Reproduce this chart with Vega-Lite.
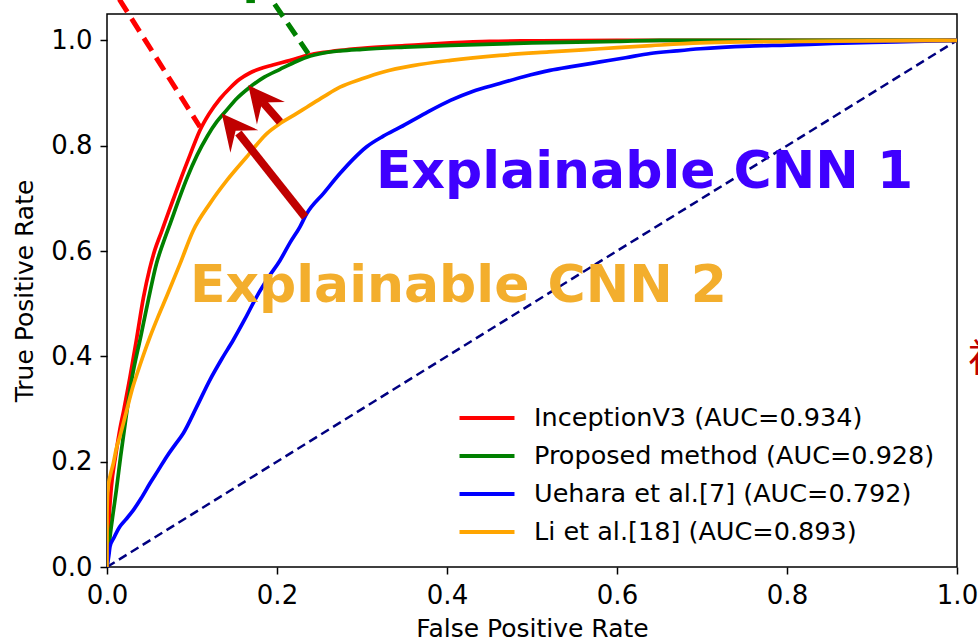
{
  "$schema": "https://vega.github.io/schema/vega-lite/v6.json",
  "width": 850,
  "height": 553,
  "autosize": {"type": "none"},
  "padding": {"top": 14, "left": 107, "right": 21, "bottom": 75},
  "background": "white",
  "config": {
    "view": {"stroke": "black", "strokeWidth": 1.5},
    "font": "DejaVu Sans",
    "axis": {
      "grid": false, "domain": false,
      "tickColor": "black", "tickSize": 7, "tickWidth": 1.5,
      "labelColor": "black", "labelFont": "DejaVu Sans", "labelFontSize": 26,
      "titleColor": "black", "titleFont": "DejaVu Sans", "titleFontSize": 25, "titleFontWeight": "normal"
    }
  },
  "datasets": {
    "roc": [
      {"model": "InceptionV3 (AUC=0.934)", "fpr": 0, "tpr": 0},
      {"model": "InceptionV3 (AUC=0.934)", "fpr": 0.002, "tpr": 0.08},
      {"model": "InceptionV3 (AUC=0.934)", "fpr": 0.005, "tpr": 0.15},
      {"model": "InceptionV3 (AUC=0.934)", "fpr": 0.01, "tpr": 0.21},
      {"model": "InceptionV3 (AUC=0.934)", "fpr": 0.015, "tpr": 0.26},
      {"model": "InceptionV3 (AUC=0.934)", "fpr": 0.02, "tpr": 0.30},
      {"model": "InceptionV3 (AUC=0.934)", "fpr": 0.027, "tpr": 0.36},
      {"model": "InceptionV3 (AUC=0.934)", "fpr": 0.035, "tpr": 0.435},
      {"model": "InceptionV3 (AUC=0.934)", "fpr": 0.0427, "tpr": 0.51},
      {"model": "InceptionV3 (AUC=0.934)", "fpr": 0.05, "tpr": 0.565},
      {"model": "InceptionV3 (AUC=0.934)", "fpr": 0.0565, "tpr": 0.603},
      {"model": "InceptionV3 (AUC=0.934)", "fpr": 0.064, "tpr": 0.636},
      {"model": "InceptionV3 (AUC=0.934)", "fpr": 0.072, "tpr": 0.672},
      {"model": "InceptionV3 (AUC=0.934)", "fpr": 0.08, "tpr": 0.707},
      {"model": "InceptionV3 (AUC=0.934)", "fpr": 0.088, "tpr": 0.742},
      {"model": "InceptionV3 (AUC=0.934)", "fpr": 0.0976, "tpr": 0.782},
      {"model": "InceptionV3 (AUC=0.934)", "fpr": 0.109, "tpr": 0.828},
      {"model": "InceptionV3 (AUC=0.934)", "fpr": 0.12, "tpr": 0.86},
      {"model": "InceptionV3 (AUC=0.934)", "fpr": 0.133, "tpr": 0.889},
      {"model": "InceptionV3 (AUC=0.934)", "fpr": 0.145, "tpr": 0.91},
      {"model": "InceptionV3 (AUC=0.934)", "fpr": 0.156, "tpr": 0.926},
      {"model": "InceptionV3 (AUC=0.934)", "fpr": 0.168, "tpr": 0.938},
      {"model": "InceptionV3 (AUC=0.934)", "fpr": 0.18, "tpr": 0.946},
      {"model": "InceptionV3 (AUC=0.934)", "fpr": 0.195, "tpr": 0.953},
      {"model": "InceptionV3 (AUC=0.934)", "fpr": 0.211, "tpr": 0.96},
      {"model": "InceptionV3 (AUC=0.934)", "fpr": 0.235, "tpr": 0.971},
      {"model": "InceptionV3 (AUC=0.934)", "fpr": 0.255, "tpr": 0.977},
      {"model": "InceptionV3 (AUC=0.934)", "fpr": 0.274, "tpr": 0.981},
      {"model": "InceptionV3 (AUC=0.934)", "fpr": 0.3, "tpr": 0.985},
      {"model": "InceptionV3 (AUC=0.934)", "fpr": 0.35, "tpr": 0.99},
      {"model": "InceptionV3 (AUC=0.934)", "fpr": 0.404, "tpr": 0.995},
      {"model": "InceptionV3 (AUC=0.934)", "fpr": 0.45, "tpr": 0.998},
      {"model": "InceptionV3 (AUC=0.934)", "fpr": 0.5, "tpr": 0.999},
      {"model": "InceptionV3 (AUC=0.934)", "fpr": 0.6, "tpr": 1.0},
      {"model": "InceptionV3 (AUC=0.934)", "fpr": 1.0, "tpr": 1.0},
      {"model": "Proposed method (AUC=0.928)", "fpr": 0, "tpr": 0},
      {"model": "Proposed method (AUC=0.928)", "fpr": 0.0035, "tpr": 0.057},
      {"model": "Proposed method (AUC=0.928)", "fpr": 0.007, "tpr": 0.10},
      {"model": "Proposed method (AUC=0.928)", "fpr": 0.011, "tpr": 0.146},
      {"model": "Proposed method (AUC=0.928)", "fpr": 0.016, "tpr": 0.21},
      {"model": "Proposed method (AUC=0.928)", "fpr": 0.022, "tpr": 0.28},
      {"model": "Proposed method (AUC=0.928)", "fpr": 0.029, "tpr": 0.355},
      {"model": "Proposed method (AUC=0.928)", "fpr": 0.04, "tpr": 0.44},
      {"model": "Proposed method (AUC=0.928)", "fpr": 0.049, "tpr": 0.51},
      {"model": "Proposed method (AUC=0.928)", "fpr": 0.058, "tpr": 0.575},
      {"model": "Proposed method (AUC=0.928)", "fpr": 0.066, "tpr": 0.615},
      {"model": "Proposed method (AUC=0.928)", "fpr": 0.075, "tpr": 0.655},
      {"model": "Proposed method (AUC=0.928)", "fpr": 0.085, "tpr": 0.70},
      {"model": "Proposed method (AUC=0.928)", "fpr": 0.094, "tpr": 0.738},
      {"model": "Proposed method (AUC=0.928)", "fpr": 0.106, "tpr": 0.782},
      {"model": "Proposed method (AUC=0.928)", "fpr": 0.118, "tpr": 0.818},
      {"model": "Proposed method (AUC=0.928)", "fpr": 0.129, "tpr": 0.845},
      {"model": "Proposed method (AUC=0.928)", "fpr": 0.14, "tpr": 0.866},
      {"model": "Proposed method (AUC=0.928)", "fpr": 0.153, "tpr": 0.89},
      {"model": "Proposed method (AUC=0.928)", "fpr": 0.168, "tpr": 0.911},
      {"model": "Proposed method (AUC=0.928)", "fpr": 0.185, "tpr": 0.93},
      {"model": "Proposed method (AUC=0.928)", "fpr": 0.2035, "tpr": 0.945},
      {"model": "Proposed method (AUC=0.928)", "fpr": 0.22, "tpr": 0.958},
      {"model": "Proposed method (AUC=0.928)", "fpr": 0.235, "tpr": 0.968},
      {"model": "Proposed method (AUC=0.928)", "fpr": 0.255, "tpr": 0.976},
      {"model": "Proposed method (AUC=0.928)", "fpr": 0.274, "tpr": 0.98},
      {"model": "Proposed method (AUC=0.928)", "fpr": 0.3, "tpr": 0.983},
      {"model": "Proposed method (AUC=0.928)", "fpr": 0.35, "tpr": 0.987},
      {"model": "Proposed method (AUC=0.928)", "fpr": 0.404, "tpr": 0.9905},
      {"model": "Proposed method (AUC=0.928)", "fpr": 0.5, "tpr": 0.995},
      {"model": "Proposed method (AUC=0.928)", "fpr": 0.6, "tpr": 0.998},
      {"model": "Proposed method (AUC=0.928)", "fpr": 0.65, "tpr": 1.0},
      {"model": "Proposed method (AUC=0.928)", "fpr": 1.0, "tpr": 1.0},
      {"model": "Uehara et al.[7] (AUC=0.792)", "fpr": 0, "tpr": 0},
      {"model": "Uehara et al.[7] (AUC=0.792)", "fpr": 0.002, "tpr": 0.02},
      {"model": "Uehara et al.[7] (AUC=0.792)", "fpr": 0.0035, "tpr": 0.0385},
      {"model": "Uehara et al.[7] (AUC=0.792)", "fpr": 0.008, "tpr": 0.055},
      {"model": "Uehara et al.[7] (AUC=0.792)", "fpr": 0.015, "tpr": 0.0765},
      {"model": "Uehara et al.[7] (AUC=0.792)", "fpr": 0.022, "tpr": 0.09},
      {"model": "Uehara et al.[7] (AUC=0.792)", "fpr": 0.031, "tpr": 0.108},
      {"model": "Uehara et al.[7] (AUC=0.792)", "fpr": 0.04, "tpr": 0.13},
      {"model": "Uehara et al.[7] (AUC=0.792)", "fpr": 0.0506, "tpr": 0.159},
      {"model": "Uehara et al.[7] (AUC=0.792)", "fpr": 0.06, "tpr": 0.183},
      {"model": "Uehara et al.[7] (AUC=0.792)", "fpr": 0.07, "tpr": 0.209},
      {"model": "Uehara et al.[7] (AUC=0.792)", "fpr": 0.08, "tpr": 0.232},
      {"model": "Uehara et al.[7] (AUC=0.792)", "fpr": 0.0898, "tpr": 0.254},
      {"model": "Uehara et al.[7] (AUC=0.792)", "fpr": 0.1055, "tpr": 0.304},
      {"model": "Uehara et al.[7] (AUC=0.792)", "fpr": 0.121, "tpr": 0.355},
      {"model": "Uehara et al.[7] (AUC=0.792)", "fpr": 0.135, "tpr": 0.395},
      {"model": "Uehara et al.[7] (AUC=0.792)", "fpr": 0.1486, "tpr": 0.431},
      {"model": "Uehara et al.[7] (AUC=0.792)", "fpr": 0.162, "tpr": 0.47},
      {"model": "Uehara et al.[7] (AUC=0.792)", "fpr": 0.176, "tpr": 0.513},
      {"model": "Uehara et al.[7] (AUC=0.792)", "fpr": 0.19, "tpr": 0.55},
      {"model": "Uehara et al.[7] (AUC=0.792)", "fpr": 0.2035, "tpr": 0.582},
      {"model": "Uehara et al.[7] (AUC=0.792)", "fpr": 0.215, "tpr": 0.615},
      {"model": "Uehara et al.[7] (AUC=0.792)", "fpr": 0.227, "tpr": 0.646},
      {"model": "Uehara et al.[7] (AUC=0.792)", "fpr": 0.235, "tpr": 0.671},
      {"model": "Uehara et al.[7] (AUC=0.792)", "fpr": 0.255, "tpr": 0.71},
      {"model": "Uehara et al.[7] (AUC=0.792)", "fpr": 0.274, "tpr": 0.747},
      {"model": "Uehara et al.[7] (AUC=0.792)", "fpr": 0.29, "tpr": 0.775},
      {"model": "Uehara et al.[7] (AUC=0.792)", "fpr": 0.3055, "tpr": 0.798},
      {"model": "Uehara et al.[7] (AUC=0.792)", "fpr": 0.325, "tpr": 0.818},
      {"model": "Uehara et al.[7] (AUC=0.792)", "fpr": 0.345, "tpr": 0.835},
      {"model": "Uehara et al.[7] (AUC=0.792)", "fpr": 0.375, "tpr": 0.862},
      {"model": "Uehara et al.[7] (AUC=0.792)", "fpr": 0.404, "tpr": 0.886},
      {"model": "Uehara et al.[7] (AUC=0.792)", "fpr": 0.43, "tpr": 0.903},
      {"model": "Uehara et al.[7] (AUC=0.792)", "fpr": 0.462, "tpr": 0.918},
      {"model": "Uehara et al.[7] (AUC=0.792)", "fpr": 0.49, "tpr": 0.931},
      {"model": "Uehara et al.[7] (AUC=0.792)", "fpr": 0.521, "tpr": 0.943},
      {"model": "Uehara et al.[7] (AUC=0.792)", "fpr": 0.55, "tpr": 0.951},
      {"model": "Uehara et al.[7] (AUC=0.792)", "fpr": 0.58, "tpr": 0.959},
      {"model": "Uehara et al.[7] (AUC=0.792)", "fpr": 0.61, "tpr": 0.967},
      {"model": "Uehara et al.[7] (AUC=0.792)", "fpr": 0.639, "tpr": 0.975},
      {"model": "Uehara et al.[7] (AUC=0.792)", "fpr": 0.67, "tpr": 0.98},
      {"model": "Uehara et al.[7] (AUC=0.792)", "fpr": 0.698, "tpr": 0.984},
      {"model": "Uehara et al.[7] (AUC=0.792)", "fpr": 0.756, "tpr": 0.989},
      {"model": "Uehara et al.[7] (AUC=0.792)", "fpr": 0.8, "tpr": 0.991},
      {"model": "Uehara et al.[7] (AUC=0.792)", "fpr": 0.854, "tpr": 0.994},
      {"model": "Uehara et al.[7] (AUC=0.792)", "fpr": 0.9, "tpr": 0.996},
      {"model": "Uehara et al.[7] (AUC=0.792)", "fpr": 0.95, "tpr": 0.998},
      {"model": "Uehara et al.[7] (AUC=0.792)", "fpr": 1.0, "tpr": 1.0},
      {"model": "Li et al.[18] (AUC=0.893)", "fpr": 0, "tpr": 0},
      {"model": "Li et al.[18] (AUC=0.893)", "fpr": 0.0, "tpr": 0.10},
      {"model": "Li et al.[18] (AUC=0.893)", "fpr": 0.001, "tpr": 0.146},
      {"model": "Li et al.[18] (AUC=0.893)", "fpr": 0.004, "tpr": 0.175},
      {"model": "Li et al.[18] (AUC=0.893)", "fpr": 0.0075, "tpr": 0.197},
      {"model": "Li et al.[18] (AUC=0.893)", "fpr": 0.011, "tpr": 0.225},
      {"model": "Li et al.[18] (AUC=0.893)", "fpr": 0.015, "tpr": 0.247},
      {"model": "Li et al.[18] (AUC=0.893)", "fpr": 0.022, "tpr": 0.29},
      {"model": "Li et al.[18] (AUC=0.893)", "fpr": 0.031, "tpr": 0.345},
      {"model": "Li et al.[18] (AUC=0.893)", "fpr": 0.035, "tpr": 0.365},
      {"model": "Li et al.[18] (AUC=0.893)", "fpr": 0.0506, "tpr": 0.437},
      {"model": "Li et al.[18] (AUC=0.893)", "fpr": 0.06, "tpr": 0.475},
      {"model": "Li et al.[18] (AUC=0.893)", "fpr": 0.07, "tpr": 0.513},
      {"model": "Li et al.[18] (AUC=0.893)", "fpr": 0.086, "tpr": 0.576},
      {"model": "Li et al.[18] (AUC=0.893)", "fpr": 0.1015, "tpr": 0.639},
      {"model": "Li et al.[18] (AUC=0.893)", "fpr": 0.121, "tpr": 0.69},
      {"model": "Li et al.[18] (AUC=0.893)", "fpr": 0.141, "tpr": 0.734},
      {"model": "Li et al.[18] (AUC=0.893)", "fpr": 0.164, "tpr": 0.778},
      {"model": "Li et al.[18] (AUC=0.893)", "fpr": 0.188, "tpr": 0.823},
      {"model": "Li et al.[18] (AUC=0.893)", "fpr": 0.2035, "tpr": 0.842},
      {"model": "Li et al.[18] (AUC=0.893)", "fpr": 0.22, "tpr": 0.858},
      {"model": "Li et al.[18] (AUC=0.893)", "fpr": 0.235, "tpr": 0.873},
      {"model": "Li et al.[18] (AUC=0.893)", "fpr": 0.255, "tpr": 0.893},
      {"model": "Li et al.[18] (AUC=0.893)", "fpr": 0.274, "tpr": 0.911},
      {"model": "Li et al.[18] (AUC=0.893)", "fpr": 0.3, "tpr": 0.927},
      {"model": "Li et al.[18] (AUC=0.893)", "fpr": 0.325, "tpr": 0.94},
      {"model": "Li et al.[18] (AUC=0.893)", "fpr": 0.36, "tpr": 0.952},
      {"model": "Li et al.[18] (AUC=0.893)", "fpr": 0.404, "tpr": 0.962},
      {"model": "Li et al.[18] (AUC=0.893)", "fpr": 0.462, "tpr": 0.9715},
      {"model": "Li et al.[18] (AUC=0.893)", "fpr": 0.52, "tpr": 0.978},
      {"model": "Li et al.[18] (AUC=0.893)", "fpr": 0.58, "tpr": 0.984},
      {"model": "Li et al.[18] (AUC=0.893)", "fpr": 0.64, "tpr": 0.99},
      {"model": "Li et al.[18] (AUC=0.893)", "fpr": 0.698, "tpr": 0.995},
      {"model": "Li et al.[18] (AUC=0.893)", "fpr": 0.75, "tpr": 0.997},
      {"model": "Li et al.[18] (AUC=0.893)", "fpr": 0.815, "tpr": 0.998},
      {"model": "Li et al.[18] (AUC=0.893)", "fpr": 0.9, "tpr": 0.999},
      {"model": "Li et al.[18] (AUC=0.893)", "fpr": 1.0, "tpr": 1.0}
    ],
    "diag": [{"fpr": 0, "tpr": 0}, {"fpr": 1, "tpr": 1}],
    "arrows": [
      {"tailx": 0.233, "taily": 0.6647, "neckx": 0.1546, "necky": 0.824, "tipx": 0.135, "tipy": 0.861},
      {"tailx": 0.2035, "taily": 0.845, "neckx": 0.183, "necky": 0.883, "tipx": 0.1662, "tipy": 0.9146}
    ],
    "leaders": [
      {"from": "InceptionV3", "x1": 0.0, "y1": 1.115, "x2": 0.1094, "y2": 0.8355},
      {"from": "Proposed", "x1": 0.182, "y1": 1.105, "x2": 0.2368, "y2": 0.9747},
      {"from": "Proposed", "x1": 0.164, "y1": 1.0755, "x2": 0.174, "y2": 1.0755}
    ],
    "notes": [
      {"label": "Explainable CNN 1", "x": 0.3165, "y": 0.719},
      {"label": "Explainable CNN 2", "x": 0.0976, "y": 0.503}
    ],
    "side": [{"label": "初", "x": 1.013, "y": 0.393}]
  },
  "layer": [
    {
      "data": {"name": "diag"},
      "mark": {"type": "line", "color": "#000080", "strokeWidth": 2.5, "strokeDash": [9, 5]},
      "encoding": {
        "x": {"field": "fpr", "type": "quantitative", "scale": {"domain": [0, 1], "nice": false, "zero": false},
              "axis": {"values": [0, 0.2, 0.4, 0.6, 0.8, 1.0], "format": ".1f", "labelPadding": 8, "titlePadding": 8, "labelFlush": false, "labelOverlap": false},
              "title": "False Positive Rate"},
        "y": {"field": "tpr", "type": "quantitative", "scale": {"domain": [0, 1.05], "nice": false, "zero": false},
              "axis": {"values": [0, 0.2, 0.4, 0.6, 0.8, 1.0], "format": ".1f", "labelPadding": 8, "titlePadding": 13, "labelFlush": false, "labelOverlap": false},
              "title": "True Positive Rate"}
      }
    },
    {
      "data": {"name": "roc"},
      "mark": {"type": "line", "strokeWidth": 3.7, "clip": true, "interpolate": "monotone"},
      "encoding": {
        "x": {"field": "fpr", "type": "quantitative"},
        "y": {"field": "tpr", "type": "quantitative"},
        "color": {
          "field": "model", "type": "nominal",
          "scale": {
            "domain": ["InceptionV3 (AUC=0.934)", "Proposed method (AUC=0.928)", "Uehara et al.[7] (AUC=0.792)", "Li et al.[18] (AUC=0.893)"],
            "range": ["#ff0000", "#008000", "#0000ff", "#ffa500"]
          },
          "legend": {
            "title": null, "orient": "none", "legendX": 364, "legendY": 388,
            "symbolType": "M-2,0 L2,0", "symbolSize": 756, "symbolStrokeWidth": 4,
            "labelFont": "DejaVu Sans", "labelFontSize": 25.5, "labelColor": "black", "labelLimit": 600,
            "labelOffset": 31, "rowPadding": 8, "padding": 0
          }
        }
      }
    },
    {
      "data": {"name": "arrows"},
      "mark": {"type": "rule", "color": "#c00000", "strokeWidth": 8, "strokeCap": "butt"},
      "encoding": {
        "x": {"field": "tailx", "type": "quantitative"},
        "y": {"field": "taily", "type": "quantitative"},
        "x2": {"field": "neckx"},
        "y2": {"field": "necky"}
      }
    },
    {
      "data": {"name": "arrows"},
      "mark": {"type": "point", "shape": "M0,0 L0.9,1.8 L0,1.1 L-0.9,1.8 Z", "filled": true, "color": "#c00000", "opacity": 1, "size": 1600, "angle": 321, "strokeWidth": 0},
      "encoding": {
        "x": {"field": "tipx", "type": "quantitative"},
        "y": {"field": "tipy", "type": "quantitative"}
      }
    },
    {
      "data": {"name": "leaders"},
      "transform": [{"filter": "datum.from === 'InceptionV3'"}],
      "mark": {"type": "rule", "color": "#ff0000", "strokeWidth": 5, "strokeDash": [15, 8], "clip": false},
      "encoding": {
        "x": {"field": "x1", "type": "quantitative"},
        "y": {"field": "y1", "type": "quantitative"},
        "x2": {"field": "x2"},
        "y2": {"field": "y2"}
      }
    },
    {
      "data": {"name": "leaders"},
      "transform": [{"filter": "datum.from === 'Proposed'"}],
      "mark": {"type": "rule", "color": "#008000", "strokeWidth": 5, "strokeDash": [15, 8], "clip": false},
      "encoding": {
        "x": {"field": "x1", "type": "quantitative"},
        "y": {"field": "y1", "type": "quantitative"},
        "x2": {"field": "x2"},
        "y2": {"field": "y2"}
      }
    },
    {
      "data": {"name": "notes"},
      "transform": [{"filter": "datum.label === 'Explainable CNN 1'"}],
      "mark": {"type": "text", "align": "left", "baseline": "alphabetic", "font": "DejaVu Sans", "fontWeight": "bold", "fontSize": 52, "color": "#3f00ff"},
      "encoding": {
        "x": {"field": "x", "type": "quantitative"},
        "y": {"field": "y", "type": "quantitative"},
        "text": {"field": "label"}
      }
    },
    {
      "data": {"name": "notes"},
      "transform": [{"filter": "datum.label === 'Explainable CNN 2'"}],
      "mark": {"type": "text", "align": "left", "baseline": "alphabetic", "font": "DejaVu Sans", "fontWeight": "bold", "fontSize": 52, "color": "#f3ae2d"},
      "encoding": {
        "x": {"field": "x", "type": "quantitative"},
        "y": {"field": "y", "type": "quantitative"},
        "text": {"field": "label"}
      }
    },
    {
      "data": {"name": "side"},
      "mark": {"type": "text", "align": "left", "baseline": "middle", "font": "Noto Sans CJK SC", "fontSize": 38, "color": "#c00000", "clip": false},
      "encoding": {
        "x": {"field": "x", "type": "quantitative"},
        "y": {"field": "y", "type": "quantitative"},
        "text": {"field": "label"}
      }
    }
  ]
}
